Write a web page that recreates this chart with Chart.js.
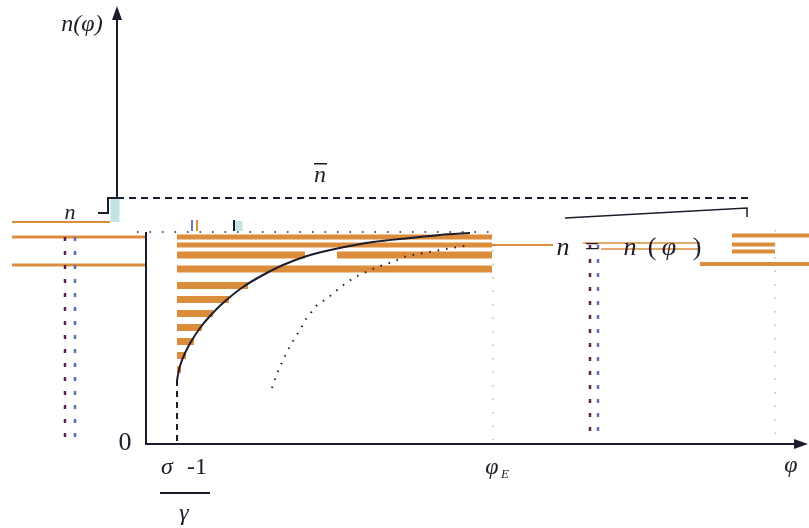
<!DOCTYPE html>
<html>
<head>
<meta charset="utf-8">
<script src="https://cdn.jsdelivr.net/npm/chart.js@4/dist/chart.umd.min.js"></script>
<style>
  html, body { margin: 0; padding: 0; background: #fff; }
  #wrap { width: 809px; height: 528px; position: relative; }
</style>
</head>
<body>
<div id="wrap"><canvas id="fig"></canvas></div>
<script>
// n(phi) curve (phi units, n units)
const curvePhi = [3.1, 3.4, 3.9, 4.6, 5.4, 6.4, 7.7, 9.7, 11.7, 13.7, 16.1, 18.9, 22.7, 26.4, 29.4, 32.4];
const curveN   = [6.4, 7.8, 9.1, 10.4, 11.6, 12.8, 14.1, 15.7, 16.9, 17.9, 18.8, 19.5, 20.2, 20.6, 20.9, 21.1];
// the shifted dotted copy of the curve
const ghostPhi = [12.6, 13.0, 13.7, 14.4, 15.2, 16.0, 17.0, 18.4, 19.6, 20.9, 22.9, 24.6, 26.1, 29.4, 32.4];
const ghostN   = [5.6, 6.8, 8.4, 9.8, 11.1, 12.5, 13.8, 14.8, 15.8, 16.7, 17.6, 18.2, 18.8, 19.4, 19.9];
// key levels
const phiMin = 3.1;      // (sigma-1)/gamma
const phiE = 34.6;
const nBar = 24.6;
const nLow = 21.2;
const axisTopN = 43.6;
const axisEndPhi = 65.9;
// orange hatch stripes under the curve
const stripeN    = [20.7, 19.9, 18.9, 18.9, 17.5, 15.85, 14.45, 13.05, 11.65, 10.25, 8.85, 7.45];
const stripeFrom = [3.1, 3.1, 3.1, 19.1, 3.1, 3.1, 3.1, 3.1, 3.1, 3.1, 3.1, 3.1];
const stripeTo   = [34.6, 34.6, 15.9, 34.6, 34.6, 10.2, 8.3, 6.7, 5.6, 4.8, 4.0, 3.5];
// stray orange lines left and right
const leftLineN  = [22.2, 20.7, 17.9];
const leftLineTo = [-3.6, 0, 0];
const rightStripeN    = [20.85, 19.95, 19.25, 18.0];
const rightStripeFrom = [58.6, 58.6, 58.6, 55.4];
const rightStripeTo   = [66.3, 62.9, 62.9, 66.3];
// labels
const labelText = ['n(\u03C6)', 'n', 'n', '0', '\u03C3', '-1', '\u03B3', '\u03C6', 'E', '\u03C6', 'n', '=', 'n', '(', '\u03C6', ')'];
const labelPhi  = [-6.4, 17.4, -7.6, -2.1, 2.1, 5.1, 3.8, 34.6, 35.9, 64.5, 41.7, 44.6, 48.4, 50.6, 52.3, 55.1];
const labelN    = [41.9, 26.8, 23.1, 0.1, -2.4, -2.4, -7.0, -2.4, -3.1, -2.2, 19.6, 19.6, 19.6, 19.6, 19.6, 19.6];

const ORANGE = '#dc8d3c';
const INK = '#1c1c2c';

function pts(xs, ys) { return xs.map((x, i) => ({ x: x, y: ys[i] })); }
function seg(data, color, width, dash, order) {
    return {
        data: data, borderColor: color, borderWidth: width, borderDash: dash || [],
        pointRadius: 0, fill: false, tension: 0, order: order || 1, clip: false
    };
}

const datasets = [];
// stripes (drawn behind)
stripeN.forEach((n, i) => {
    datasets.push(seg([{x: stripeFrom[i], y: n}, {x: stripeTo[i], y: n}], ORANGE, i < 2 ? 5 : 7, [], 9));
});
datasets.push(seg([{x: phiE, y: 19.9}, {x: 40.7, y: 19.9}], ORANGE, 2, [], 9));
leftLineN.forEach((n, i) => {
    datasets.push(seg([{x: -13.4, y: n}, {x: leftLineTo[i], y: n}], ORANGE, i == 0 ? 2 : 3, [], 9));
});
rightStripeN.forEach((n, i) => {
    datasets.push(seg([{x: rightStripeFrom[i], y: n}, {x: rightStripeTo[i], y: n}], ORANGE, 4, [], 9));
});
datasets.push(seg([{x: 43.7, y: 20.1}, {x: 55.4, y: 20.1}], ORANGE, 1.5, [], 9));
datasets.push(seg([{x: 45.5, y: 19.5}, {x: 55.4, y: 19.5}], ORANGE, 1.5, [], 9));
// light blue smudges
datasets.push(seg([{x: -3.1, y: 24.5}, {x: -3.1, y: 22.2}], '#c3e4e4', 9, [], 8));
datasets.push(seg([{x: 9.2, y: 22.3}, {x: 9.2, y: 21.3}], '#c3e4e4', 9, [], 8));
datasets.push(seg([{x: 4.6, y: 22.4}, {x: 4.6, y: 21.3}], '#5f7fc0', 2, [], 7));
datasets.push(seg([{x: 5.1, y: 22.4}, {x: 5.1, y: 21.3}], ORANGE, 2, [], 7));
datasets.push(seg([{x: 8.8, y: 22.4}, {x: 8.8, y: 21.3}], INK, 2, [], 7));
// axes
datasets.push(seg([{x: -2.9, y: axisTopN - 0.6}, {x: -2.9, y: nBar}, {x: -3.8, y: nBar}, {x: -3.8, y: 23.1}, {x: -4.8, y: 23.1}], INK, 2));
datasets.push(seg([{x: 0, y: nLow}, {x: 0, y: 0}, {x: axisEndPhi - 0.6, y: 0}], INK, 2));
// n-bar dashed line and the slanted piece
datasets.push(seg([{x: -2.9, y: nBar}, {x: 60.4, y: nBar}], INK, 2, [7, 5]));
datasets.push(seg([{x: 41.9, y: 22.6}, {x: 60.1, y: 23.6}, {x: 60.1, y: 22.7}], INK, 1.5));
// dotted n level
datasets.push(seg([{x: -0.9, y: nLow}, {x: 34.4, y: nLow}], INK, 1.5, [1.5, 11]));
// curve and its dashed foot
datasets.push(Object.assign(seg(pts(curvePhi, curveN), INK, 2), { tension: 0.3 }));
datasets.push(seg([{x: phiMin, y: 6.4}, {x: phiMin, y: 0}], INK, 2, [6, 5]));
datasets.push(seg(pts(ghostPhi, ghostN), INK, 2, [1.5, 7]));
// dotted verticals
datasets.push(seg([{x: -8.1, y: 20.7}, {x: -8.1, y: 0.4}], '#5a2448', 2.5, [4, 10]));
datasets.push(seg([{x: -7.1, y: 20.7}, {x: -7.1, y: 0.4}], '#5a72b8', 2.5, [4, 10]));
datasets.push(seg([{x: 44.4, y: 19.9}, {x: 44.4, y: 0.9}], '#5a2448', 2.5, [4, 10]));
datasets.push(seg([{x: 45.2, y: 19.9}, {x: 45.2, y: 0.9}], '#5a72b8', 2.5, [4, 10]));
datasets.push(seg([{x: phiE + 0.1, y: 19.4}, {x: phiE + 0.1, y: 0.4}], '#b8b8b8', 1.5, [1.5, 12]));
datasets.push(seg([{x: 62.9, y: 21.4}, {x: 62.9, y: 0.4}], '#b8b8b8', 1.5, [1.5, 12]));
// fraction bar
datasets.push(seg([{x: 1.4, y: -4.9}, {x: 6.4, y: -4.9}], INK, 2));

// arrowheads + text, drawn on the scales
const figurePlugin = {
    id: 'figure',
    afterDatasetsDraw(chart) {
        const ctx = chart.ctx;
        const xs = chart.scales.x, ys = chart.scales.y;
        ctx.save();
        ctx.fillStyle = INK;
        // up arrow
        let ax = xs.getPixelForValue(-2.9), ay = ys.getPixelForValue(axisTopN);
        ctx.beginPath(); ctx.moveTo(ax, ay - 2); ctx.lineTo(ax - 5, ay + 12); ctx.lineTo(ax + 5, ay + 12); ctx.closePath(); ctx.fill();
        // right arrow
        ax = xs.getPixelForValue(axisEndPhi); ay = ys.getPixelForValue(0);
        ctx.beginPath(); ctx.moveTo(ax + 3, ay); ctx.lineTo(ax - 11, ay - 5); ctx.lineTo(ax - 11, ay + 5); ctx.closePath(); ctx.fill();
        // labels
        ctx.textAlign = 'center';
        ctx.textBaseline = 'middle';
        labelText.forEach((t, i) => {
            let font = 'italic 24px "Liberation Serif"';
            if (t === '0') font = '26px "Liberation Serif"';
            if (t === '-1' || t === '=' || t === '(' || t === ')') font = '24px "Liberation Serif"';
            if (t === 'n' && i === 2) font = 'italic 22px "Liberation Serif"';
            if (t === 'E') font = 'italic 13px "Liberation Serif"';
            if (i >= 10) font = font.replace('24px', '26px');
            ctx.font = font;
            ctx.fillText(t, xs.getPixelForValue(labelPhi[i]), ys.getPixelForValue(labelN[i]));
        });
        // overline on n-bar
        const bx = xs.getPixelForValue(labelPhi[1]), by = ys.getPixelForValue(labelN[1]);
        ctx.fillRect(bx - 6, by - 13, 13, 1.5);
        ctx.restore();
    }
};

new Chart(document.getElementById('fig'), {
    type: 'line',
    data: { datasets: datasets },
    options: {
        animation: false,
        responsive: true,
        maintainAspectRatio: false,
        devicePixelRatio: 1,
        layout: { padding: 0 },
        plugins: { legend: { display: false }, tooltip: { enabled: false } },
        scales: {
            x: { type: 'linear', display: false, min: -14.6, max: 66.3 },
            y: { type: 'linear', display: false, min: -8.4, max: 44.4 }
        }
    },
    plugins: [figurePlugin]
});
</script>
</body>
</html>
